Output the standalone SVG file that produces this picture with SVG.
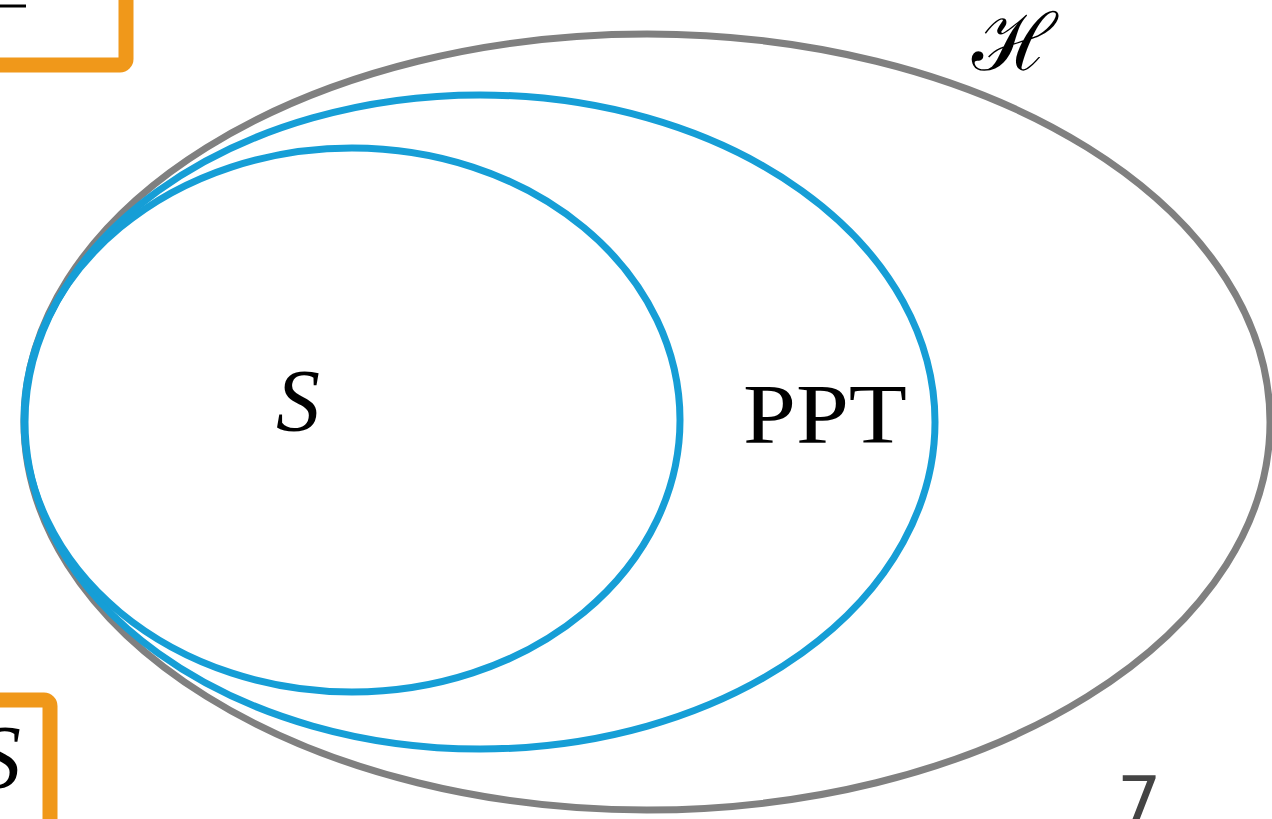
<svg xmlns="http://www.w3.org/2000/svg" width="1272" height="819" viewBox="0 0 1272 819">
<style>
.blue{fill:none;stroke:#169ed6;stroke-width:7}
.gray{fill:none;stroke:#808080;stroke-width:7}
.orange{fill:none;stroke:#f0981a;stroke-width:15}
.tex{font-family:"Liberation Serif","DejaVu Serif",serif;fill:#000}
</style>
<rect fill="#fff" x="0" y="0" width="1272" height="819"/>
<g id="frame-top-left">
<rect class="orange" x="-200" y="-100" width="326" height="165" rx="6"/>
<line x1="0" y1="6" x2="26" y2="6" stroke="#000" stroke-width="3"/>
</g>
<g id="frame-bottom-left">
<rect class="orange" x="-200" y="700" width="250" height="200" rx="6"/>
<text class="tex" x="-24" y="788" font-size="90" font-style="italic">S</text>
</g>
<g id="H">
<ellipse class="gray" cx="647" cy="422" rx="623" ry="388"/>
<text class="tex" x="972" y="70" font-size="80">ℋ</text>
</g>
<g id="PPT">
<ellipse class="blue" cx="480" cy="422" rx="455" ry="327"/>
<text class="tex" x="743" y="443" font-size="84" textLength="164" lengthAdjust="spacingAndGlyphs">PPT</text>
</g>
<g id="S">
<ellipse class="blue" cx="352" cy="420" rx="328" ry="272"/>
<text class="tex" x="276" y="430" font-size="88" font-style="italic">S</text>
</g>
<g id="page-number">
<text x="1117" y="826" font-family="DejaVu Sans, sans-serif" font-size="70" fill="#444">7</text>
</g>
</svg>
